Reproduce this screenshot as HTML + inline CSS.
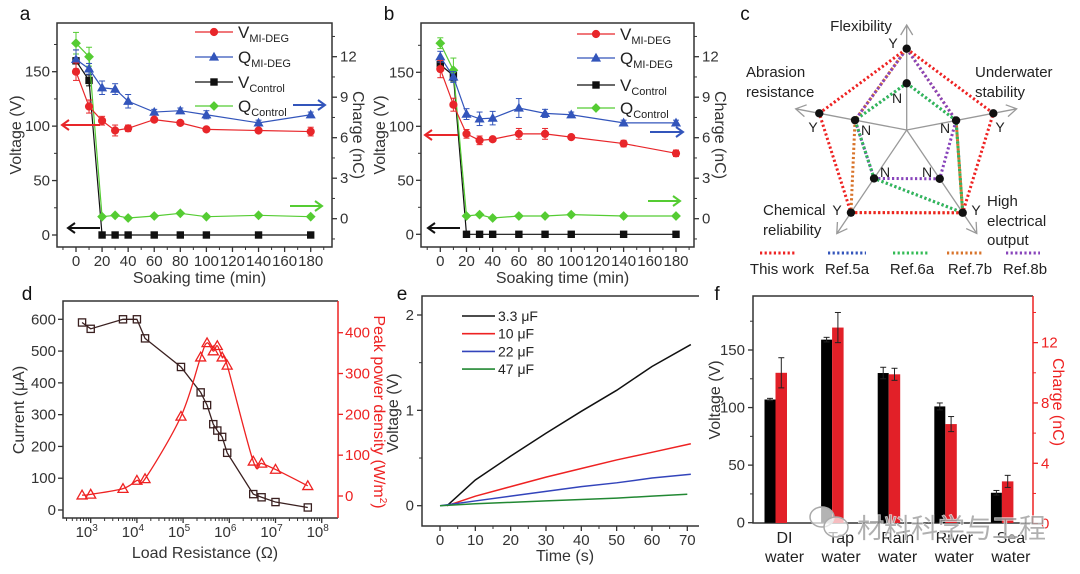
<!DOCTYPE html>
<html><head><meta charset="utf-8">
<style>
body{margin:0;background:#fff}
svg{display:block;font-family:"Liberation Sans","Noto Sans CJK SC",sans-serif}
</style></head>
<body>
<svg id="fig" width="1080" height="574" viewBox="0 0 1080 574"></svg>
<script>
// ---------- Panel a data ----------
const timesAB=[0,10,20,30,40,60,80,100,140,180];
const aVmi=[150,118,105,96,98,106,103,97,96,95];
const aVmiErr=[8,6,4,5,3,2,2,2,2,4];
const aQmi=[11.8,11.1,9.7,9.6,8.7,7.9,8.0,7.7,7.1,7.7];
const aQmiErr=[0.7,0.4,0.5,0.4,0.5,0.2,0.2,0.3,0.2,0.2];
const aVctrl=[160,142,0,0,0,0,0,0,0,0];
const aVctrlErr=[10,5,0,0,0,0,0,0,0,0];
const aQctrl=[13.0,12.0,0.15,0.25,0.05,0.2,0.4,0.15,0.25,0.15];
const aQctrlErr=[0.8,0.7,0,0,0,0,0,0,0,0];
// ---------- Panel b data ----------
const bVmi=[153,120,93,87,88,93,93,90,84,75];
const bVmiErr=[8,6,4,4,2,5,5,2,3,3];
const bQmi=[12.0,10.5,7.75,7.4,7.45,8.2,7.8,7.7,7.1,7.1];
const bQmiErr=[0.4,0.4,0.4,0.5,0.5,0.7,0.3,0.2,0.2,0.2];
const bVctrl=[157,147,0,0,0,0,0,0,0,0];
const bVctrlErr=[6,5,0,0,0,0,0,0,0,0];
const bQctrl=[13.0,11.0,0.2,0.3,0.05,0.2,0.2,0.3,0.2,0.2];
const bQctrlErr=[0.4,0.9,0,0,0,0,0,0,0,0];
const abXTicks=[0,20,40,60,80,100,120,140,160,180];
const abVTicks=[0,50,100,150];
const abQTicks=[0,3,6,9,12];
// ---------- Panel c data (1 = Y, 0 = N) ----------
const radarAxes=["Flexibility","Underwater stability","High electrical output","Chemical reliability","Abrasion resistance"];
const radarSeriesNames=["This work","Ref.5a","Ref.6a","Ref.7b","Ref.8b"];
const radarThisWork=[1,1,1,1,1];
const radarRef5a=[0,0,1,0,0];
const radarRef6a=[0,0,1,0,0];
const radarRef7b=[1,0,1,1,0];
const radarRef8b=[1,0,0,0,0];
// ---------- Panel d data ----------
const dResist=[650,1000,5000,10000,15000,90000,240000,330000,450000,550000,700000,900000,3300000,5000000,10000000,50000000];
const dCurrent=[590,570,600,600,540,450,370,330,270,250,230,180,50,40,25,8];
const dPower=[2,4,18,38,42,195,340,375,355,368,340,320,85,80,65,25];
const dCurTicks=[0,100,200,300,400,500,600];
const dPowTicks=[0,100,200,300,400];
const dDecades=[3,4,5,6,7,8];
// ---------- Panel e data ----------
const eTimes=[2,10,20,30,40,50,60,71];
const eTimesB=[0,10,20,30,40,50,60,71];
const eTimesG=[0,10,20,30,40,50,60,70];
const e33=[0,0.27,0.52,0.76,0.99,1.21,1.46,1.69];
const e10=[0,0.1,0.2,0.3,0.39,0.48,0.56,0.65];
const e22=[0,0.05,0.1,0.15,0.2,0.24,0.29,0.33];
const e47=[0,0.02,0.035,0.05,0.065,0.08,0.1,0.12];
const eXTicks=[0,10,20,30,40,50,60,70];
const eYTicks=[0,1,2];
// ---------- Panel f data ----------
const fCats=[["DI","water"],["Tap","water"],["Rain","water"],["River","water"],["Sea","water"]];
const fVolt=[107,159,130,101,26];
const fVoltErr=[1,2,5,3,2];
const fCharge=[10,13,9.9,6.6,2.8];
const fChargeErr=[1.0,1.0,0.4,0.5,0.4];
const fVTicks=[0,50,100,150];
const fQTicks=[0,4,8,12];

const NS='http://www.w3.org/2000/svg';
const svg=document.getElementById('fig');
function el(parent,tag,attrs,name){
  const e=document.createElementNS(NS,tag);
  for(const k in attrs) e.setAttribute(k,attrs[k]);
  
  
  parent.appendChild(e);
  return e;
}
function tx(parent,x,y,str,size,fill,anchor,name,extra){
  const a={x:x,y:y,'font-size':size,fill:fill,'text-anchor':anchor||'middle'};
  if(extra) for(const k in extra) a[k]=extra[k];
  const t=el(parent,'text',a,name);
  t.textContent=str;
  return t;
}
function grp(name){return el(svg,'g',{},name);}
function line(p,x1,y1,x2,y2,stroke,w,name,dash){
  const a={x1:x1,y1:y1,x2:x2,y2:y2,stroke:stroke,'stroke-width':w};
  if(dash) a['stroke-dasharray']=dash;
  return el(p,'line',a,name);
}
function marker(p,type,x,y,color,name,open){
  const f=open?'none':color, s=open?1.3:1;
  if(type==='circle') return el(p,'circle',{cx:x,cy:y,r:3.6,fill:f,stroke:color,'stroke-width':s},name);
  if(type==='square') { const h=open?3.6:3.2; return el(p,'rect',{x:x-h,y:y-h,width:2*h,height:2*h,fill:f,stroke:color,'stroke-width':s},name);}
  if(type==='triangle'){ const h=open?5:4.2; return el(p,'polygon',{points:`${x},${y-h} ${x+h},${y+h*0.75} ${x-h},${y+h*0.75}`,fill:f,stroke:color,'stroke-width':s},name);}
  if(type==='diamond') return el(p,'polygon',{points:`${x},${y-4.2} ${x+4.2},${y} ${x},${y+4.2} ${x-4.2},${y}`,fill:f,stroke:color,'stroke-width':s},name);
}
function arrow(p,x1,x2,y,color,name){
  const g=el(p,'g',{},name);
  line(g,x1,y,x2,y,color,2,name+'-shaft');
  const d=x2<x1?7:-7;
  el(g,'polyline',{points:`${x2+d},${y-5} ${x2},${y} ${x2+d},${y+5}`,fill:'none',stroke:color,'stroke-width':2},name+'-head');
}
function frame(p,x0,y0,x1,y1,name){
  el(p,'rect',{x:x0,y:y0,width:x1-x0,height:y1-y0,fill:'none',stroke:'#333','stroke-width':1.5},name);
}
function legendRow(p,x,y,color,type,main,sub,name){
  const g=el(p,'g',{},name);
  line(g,x,y,x+38,y,color,1.2,name+'-line');
  marker(g,type,x+19,y,color,name+'-marker');
  const t=tx(g,x+43,y+6,main,17,'#222','start',name+'-text');
  const ts=document.createElementNS(NS,'tspan');
  ts.setAttribute('font-size','11');
  ts.setAttribute('dy','4');
  ts.textContent=sub;
  t.appendChild(ts);
}

// ---------- Panels a & b ----------
function soakPanel(cfg){
  const g=grp(cfg.name);
  const xf=t=>cfg.x0t+t*(cfg.x180-cfg.x0t)/180;
  const yV=v=>cfg.yV0-v*cfg.vScale;
  const yQ=q=>218.7-q*13.5;
  frame(g,cfg.fx0,23,cfg.fx1,247,cfg.name+'-frame');
  abVTicks.forEach(v=>{line(g,cfg.fx0-5,yV(v),cfg.fx0,yV(v),'#333',1.3,'y-tick');tx(g,cfg.fx0-7,yV(v)+5,String(v),15,'#333','end','y-tick-label');});
  for(let v=25;v<=175;v+=50){line(g,cfg.fx0-3,yV(v),cfg.fx0,yV(v),'#333',1,'y-minor-tick');}
  abQTicks.forEach(q=>{line(g,cfg.fx1,yQ(q),cfg.fx1+5,yQ(q),'#333',1.3,'right-tick');tx(g,cfg.fx1+8,yQ(q)+5,String(q),15,'#333','start','right-tick-label');});
  for(let q=-1.5;q<=13.5;q+=3){line(g,cfg.fx1,yQ(q),cfg.fx1+3,yQ(q),'#333',1,'right-minor-tick');}
  abXTicks.forEach(t=>{line(g,xf(t),247,xf(t),252,'#333',1.3,'x-tick');tx(g,xf(t),266,String(t),15,'#333','middle','x-tick-label');});
  for(let t=-10;t<=190;t+=20){line(g,xf(t),247,xf(t),250,'#333',1,'x-minor-tick');}
  tx(g,(cfg.fx0+cfg.fx1)/2+5,283,'Soaking time (min)',16,'#333','middle','x-axis-title');
  tx(g,0,0,'Voltage (V)',16,'#333','middle','y-axis-title',{transform:`translate(${cfg.fx0-36},135) rotate(-90)`});
  tx(g,0,0,'Charge (nC)',16,'#333','middle','right-axis-title',{transform:`translate(${cfg.fx1+21},135) rotate(90)`});
  tx(g,cfg.fx0-32,20,cfg.letter,19,'#111','middle','panel-letter');
  const series=[
    [cfg.Vc,cfg.VcE,yV,'#111','square','v-control'],
    [cfg.Qc,cfg.QcE,yQ,'#55cc33','diamond','q-control'],
    [cfg.Qm,cfg.QmE,yQ,'#3355bb','triangle','q-mi-deg'],
    [cfg.Vm,cfg.VmE,yV,'#e8262a','circle','v-mi-deg']];
  series.forEach(s=>{
    const sg=el(g,'g',{},s[5]+'-series');
    el(sg,'polyline',{points:timesAB.map((t,i)=>`${xf(t)},${s[2](s[0][i])}`).join(' '),fill:'none',stroke:s[3],'stroke-width':1.2},s[5]+'-line');
    timesAB.forEach((t,i)=>{
      const e=s[1][i];
      if(e>0){
        const yt=s[2](s[0][i]+e), yb=s[2](s[0][i]-e), x=xf(t);
        line(sg,x,yt,x,yb,s[3],1,s[5]+'-error-bar');
        line(sg,x-3,yt,x+3,yt,s[3],1,s[5]+'-error-cap');
        line(sg,x-3,yb,x+3,yb,s[3],1,s[5]+'-error-cap');
      }
      marker(sg,s[4],xf(t),s[2](s[0][i]),s[3],s[5]+'-point');
    });
  });
  const lg=el(g,'g',{},'legend');
  legendRow(lg,cfg.lx,cfg.ly[0],'#e8262a','circle','V','MI-DEG','legend-v-mi-deg');
  legendRow(lg,cfg.lx,cfg.ly[1],'#3355bb','triangle','Q','MI-DEG','legend-q-mi-deg');
  legendRow(lg,cfg.lx,cfg.ly[2],'#111','square','V','Control','legend-v-control');
  legendRow(lg,cfg.lx,cfg.ly[3],'#55cc33','diamond','Q','Control','legend-q-control');
  cfg.arrows.forEach(a=>arrow(g,a[0],a[1],a[2],a[3],a[4]));
}
soakPanel({name:'panel-a',letter:'a',fx0:57,fx1:332,x0t:76,x180:310.7,yV0:235,vScale:163.3/150,
  Vm:aVmi,VmE:aVmiErr,Qm:aQmi,QmE:aQmiErr,Vc:aVctrl,VcE:aVctrlErr,Qc:aQctrl,QcE:aQctrlErr,
  lx:195,ly:[32,57,82,106],
  arrows:[[100,62,125,'#e8262a','v-axis-arrow-red'],[100,68,228,'#111','v-axis-arrow-black'],[293,325,105,'#3355bb','q-axis-arrow-blue'],[290,322,206,'#55cc33','q-axis-arrow-green']]});
soakPanel({name:'panel-b',letter:'b',fx0:421,fx1:694,x0t:440.3,x180:676,yV0:234.3,vScale:1.08,
  Vm:bVmi,VmE:bVmiErr,Qm:bQmi,QmE:bQmiErr,Vc:bVctrl,VcE:bVctrlErr,Qc:bQctrl,QcE:bQctrlErr,
  lx:577,ly:[34,58,85,108],
  arrows:[[458,425,135,'#e8262a','v-axis-arrow-red'],[460,428,228,'#111','v-axis-arrow-black'],[650,683,132,'#3355bb','q-axis-arrow-blue'],[648,680,201,'#55cc33','q-axis-arrow-green']]});

// ---------- Panel c radar ----------
(function(){
  const g=grp('panel-c');
  const cx=906.7, cy=130;
  const geo=[{a:-90,Y:81.3,N:46.7,tip:105},{a:-10.9,Y:88.2,N:50.3,tip:112},{a:55.9,Y:99.9,N:58.9,tip:125},{a:124,Y:99.7,N:58.4,tip:125},{a:190.8,Y:89,N:52.6,tip:113}];
  const pt=(i,v)=>{const r=v?geo[i].Y:geo[i].N, t=geo[i].a*Math.PI/180;return [cx+r*Math.cos(t),cy+r*Math.sin(t)];};
  tx(g,745,20,'c',19,'#111','middle','panel-letter');
  geo.forEach((d,i)=>{
    const t=d.a*Math.PI/180, ex=cx+d.tip*Math.cos(t), ey=cy+d.tip*Math.sin(t);
    line(g,cx,cy,ex,ey,'#999',1.3,'radar-axis');
    const hx=Math.cos(t), hy=Math.sin(t);
    el(g,'polyline',{points:`${ex-10*hx-6*hy},${ey-10*hy+6*hx} ${ex},${ey} ${ex-10*hx+6*hy},${ey-10*hy-6*hx}`,fill:'none',stroke:'#999','stroke-width':1.3},'radar-axis-arrowhead');
  });
  const all=[[radarRef7b,'#d8732a'],[radarRef8b,'#8844bb'],[radarRef5a,'#3355bb'],[radarRef6a,'#33bb55'],[radarThisWork,'#ee2222']];
  const names=['ref-7b','ref-8b','ref-5a','ref-6a','this-work'];
  all.forEach((s,k)=>{
    el(g,'polygon',{points:s[0].map((v,i)=>pt(i,v).join(',')).join(' '),fill:'none',stroke:s[1],'stroke-width':3,'stroke-dasharray':'2.2 2.4'},'radar-'+names[k]);
  });
  geo.forEach((d,i)=>{[0,1].forEach(v=>{const p=pt(i,v);el(g,'circle',{cx:p[0],cy:p[1],r:4.2,fill:'#111'},'radar-point');});});
  const lbls=[['Y',893,48],['Y',1000,132],['Y',976,215],['Y',837,215],['Y',813,132],['N',897,103],['N',945,133],['N',927,177],['N',885,177],['N',866,135]];
  lbls.forEach(l=>tx(g,l[1],l[2],l[0],14,'#222','middle','radar-yn-label'));
  tx(g,861,31,'Flexibility',15,'#222','middle','radar-axis-label');
  tx(g,975,77,'Underwater',15,'#222','start','radar-axis-label');
  tx(g,975,97,'stability',15,'#222','start','radar-axis-label');
  tx(g,746,77,'Abrasion',15,'#222','start','radar-axis-label');
  tx(g,746,97,'resistance',15,'#222','start','radar-axis-label');
  tx(g,763,215,'Chemical',15,'#222','start','radar-axis-label');
  tx(g,763,235,'reliability',15,'#222','start','radar-axis-label');
  tx(g,987,206,'High',15,'#222','start','radar-axis-label');
  tx(g,987,226,'electrical',15,'#222','start','radar-axis-label');
  tx(g,987,245,'output',15,'#222','start','radar-axis-label');
  const lcol=['#ee2222','#3355bb','#33bb55','#d8732a','#8844bb'];
  const lx=[[760,795,782],[828,866,847],[893,928,912],[947,983,970],[1006,1040,1025]];
  radarSeriesNames.forEach((n,i)=>{
    const lg=el(g,'g',{},'radar-legend-entry');
    line(lg,lx[i][0],253,lx[i][1],253,lcol[i],3,'radar-legend-line','2.2 2.4');
    tx(lg,lx[i][2],274,n,15,'#222','middle','radar-legend-text');
  });
})();

// ---------- Panel d ----------
(function(){
  const g=grp('panel-d');
  const xf=r=>90.7+(Math.log10(r)-3)*46.2;
  const yI=i=>510-i*(190.7/600);
  const yP=p=>496-p*(163.3/400);
  el(g,'polyline',{points:'338,518 63,518 63,301 338,301',fill:'none',stroke:'#333','stroke-width':1.5},'panel-d-frame');
  line(g,338,301,338,518,'#ee2222',1.5,'right-axis-line');
  tx(g,27,300,'d',19,'#111','middle','panel-letter');
  dCurTicks.forEach(v=>{line(g,58,yI(v),63,yI(v),'#333',1.3,'y-tick');tx(g,56,yI(v)+5,String(v),15,'#333','end','y-tick-label');});
  dPowTicks.forEach(v=>{line(g,338,yP(v),343,yP(v),'#ee2222',1.3,'right-tick');tx(g,345,yP(v)+5,String(v),15,'#ee2222','start','right-tick-label');});
  dDecades.forEach(d=>{
    const x=90.7+(d-3)*46.2;
    line(g,x,518,x,523,'#333',1.3,'x-tick');
    const t=tx(g,x-4,537,'10',15,'#333','middle','x-tick-label');
    const s=document.createElementNS(NS,'tspan');s.setAttribute('font-size','10');s.setAttribute('dy','-6');s.textContent=String(d);t.appendChild(s);
  });
  for(let d=2;d<8;d++){for(let m=2;m<10;m++){const x=xf(m*Math.pow(10,d));if(x>63&&x<338)line(g,x,518,x,521,'#333',1,'x-minor-tick');}}
  tx(g,205,558,'Load Resistance (Ω)',16,'#333','middle','x-axis-title');
  tx(g,0,0,'Current (μA)',16,'#333','middle','y-axis-title',{transform:'translate(24,410) rotate(-90)'});
  const t=tx(g,0,0,'Peak power density (W/m',16,'#ee2222','middle','right-axis-title',{transform:'translate(374,412) rotate(90)'});
  const s1=document.createElementNS(NS,'tspan');s1.setAttribute('font-size','10');s1.setAttribute('dy','-6');s1.textContent='2';t.appendChild(s1);
  const s2=document.createElementNS(NS,'tspan');s2.setAttribute('dy','6');s2.textContent=')';t.appendChild(s2);
  const cg=el(g,'g',{},'current-series');
  el(cg,'polyline',{points:dResist.map((r,i)=>`${xf(r)},${yI(dCurrent[i])}`).join(' '),fill:'none',stroke:'#3a2020','stroke-width':1.3},'current-line');
  dResist.forEach((r,i)=>marker(cg,'square',xf(r),yI(dCurrent[i]),'#3a2020','current-point',true));
  const pg=el(g,'g',{},'power-series');
  const P=dResist.map((r,i)=>[xf(r),yP(dPower[i])]);
  let d='M'+P[0][0]+','+P[0][1];
  for(let i=0;i<P.length-1;i++){
    const p0=P[Math.max(0,i-1)],p1=P[i],p2=P[i+1],p3=P[Math.min(P.length-1,i+2)];
    d+=` C${p1[0]+(p2[0]-p0[0])/6},${p1[1]+(p2[1]-p0[1])/6} ${p2[0]-(p3[0]-p1[0])/6},${p2[1]-(p3[1]-p1[1])/6} ${p2[0]},${p2[1]}`;
  }
  el(pg,'path',{d:d,fill:'none',stroke:'#ee2222','stroke-width':1.3},'power-line');
  dResist.forEach((r,i)=>marker(pg,'triangle',xf(r),yP(dPower[i]),'#ee2222','power-point',true));
})();

// ---------- Panel e ----------
(function(){
  const g=grp('panel-e');
  const xf=t=>440+t*(247.3/70);
  const yf=v=>505.7-v*95.35;
  el(g,'polyline',{points:'699,296 422,296 422,526 699,526',fill:'none',stroke:'#333','stroke-width':1.5},'panel-e-frame');
  tx(g,402,300,'e',19,'#111','middle','panel-letter');
  eYTicks.forEach(v=>{line(g,417,yf(v),422,yf(v),'#333',1.3,'y-tick');tx(g,414,yf(v)+5,String(v),15,'#333','end','y-tick-label');});
  [0.5,1.5].forEach(v=>line(g,419,yf(v),422,yf(v),'#333',1,'y-minor-tick'));
  eXTicks.forEach(t=>{line(g,xf(t),526,xf(t),531,'#333',1.3,'x-tick');tx(g,xf(t),545,String(t),15,'#333','middle','x-tick-label');});
  for(let t=5;t<75;t+=10) line(g,xf(t),526,xf(t),529,'#333',1,'x-minor-tick');
  tx(g,565,561,'Time (s)',16,'#333','middle','x-axis-title');
  tx(g,0,0,'Voltage (V)',16,'#333','middle','y-axis-title',{transform:'translate(398,413) rotate(-90)'});
  const S=[[eTimes,e33,'#111','3.3 μF','3-3uf'],[eTimes,e10,'#ee2222','10 μF','10uf'],[eTimesB,e22,'#3344bb','22 μF','22uf'],[eTimesG,e47,'#228833','47 μF','47uf']];
  S.forEach((s,k)=>{
    el(g,'polyline',{points:s[0].map((t,i)=>`${xf(t)},${yf(s[1][i])}`).join(' '),fill:'none',stroke:s[2],'stroke-width':1.5},'line-'+s[4]);
    const lg=el(g,'g',{},'legend-entry-'+s[4]);
    const y=316+k*17.7;
    line(lg,462,y,495,y,s[2],1.6,'legend-line');
    tx(lg,498,y+5,s[3],14,'#222','start','legend-text');
  });
})();

// ---------- Panel f ----------
(function(){
  const g=grp('panel-f');
  const yV=v=>522.7-v*(172.7/150);
  const yQ=q=>523.6-q*15.08;
  const catX=i=>781.5+i*56.6;
  el(g,'polyline',{points:'1033,296 753,296 753,523 1033,523',fill:'none',stroke:'#333','stroke-width':1.5},'panel-f-frame');
  line(g,1033,296,1033,523,'#ee2222',1.5,'right-axis-line');
  tx(g,717,300,'f',19,'#111','middle','panel-letter');
  fVTicks.forEach(v=>{line(g,748,yV(v),753,yV(v),'#333',1.3,'y-tick');tx(g,745,yV(v)+5,String(v),15,'#333','end','y-tick-label');});
  [25,75,125,175].forEach(v=>line(g,750,yV(v),753,yV(v),'#333',1,'y-minor-tick'));
  fQTicks.forEach(q=>{line(g,1033,yQ(q),1038,yQ(q),'#ee2222',1.3,'right-tick');tx(g,1041,yQ(q)+5,String(q),15,'#ee2222','start','right-tick-label');});
  [2,6,10,14].forEach(q=>line(g,1033,yQ(q),1036,yQ(q),'#ee2222',1,'right-minor-tick'));
  tx(g,0,0,'Voltage (V)',16,'#333','middle','y-axis-title',{transform:'translate(720,400) rotate(-90)'});
  tx(g,0,0,'Charge (nC)',16,'#ee2222','middle','right-axis-title',{transform:'translate(1053,402) rotate(90)'});
  fCats.forEach((c,i)=>{
    const x=catX(i);
    el(g,'rect',{x:x-17,y:yV(fVolt[i]),width:11,height:522.7-yV(fVolt[i]),fill:'#000'},'voltage-bar');
    el(g,'rect',{x:x-6,y:yQ(fCharge[i]),width:11.5,height:523-yQ(fCharge[i]),fill:'#e22028'},'charge-bar');
    const xv=x-11.5, t1=yV(fVolt[i]+fVoltErr[i]), b1=yV(fVolt[i]-fVoltErr[i]);
    line(g,xv,t1,xv,b1,'#222',1,'voltage-error-bar');line(g,xv-3,t1,xv+3,t1,'#222',1,'error-cap');line(g,xv-3,b1,xv+3,b1,'#222',1,'error-cap');
    const xq=x-0.2, t2=yQ(fCharge[i]+fChargeErr[i]), b2=yQ(fCharge[i]-fChargeErr[i]);
    line(g,xq,t2,xq,b2,'#222',1,'charge-error-bar');line(g,xq-3,t2,xq+3,t2,'#222',1,'error-cap');line(g,xq-3,b2,xq+3,b2,'#222',1,'error-cap');
    tx(g,x+3,543,c[0],16,'#222','middle','category-label');
    tx(g,x+3,562,c[1],16,'#222','middle','category-label');
  });
})();

// ---------- watermark ----------
(function(){
  const g=grp('watermark');
  el(g,'ellipse',{cx:822,cy:517,rx:12,ry:10,fill:'rgba(255,255,255,0.7)',stroke:'#aaa','stroke-width':1.5},'wechat-icon-bubble');
  el(g,'ellipse',{cx:836,cy:527,rx:12,ry:10,fill:'rgba(255,255,255,0.7)',stroke:'#aaa','stroke-width':1.5},'wechat-icon-bubble');
  tx(g,857,538,'材料科学与工程',27,'rgba(150,150,150,0.75)','start','watermark-text',{stroke:'rgba(255,255,255,0.8)','stroke-width':1.2,'paint-order':'stroke'});
})();
</script>
</body></html>
